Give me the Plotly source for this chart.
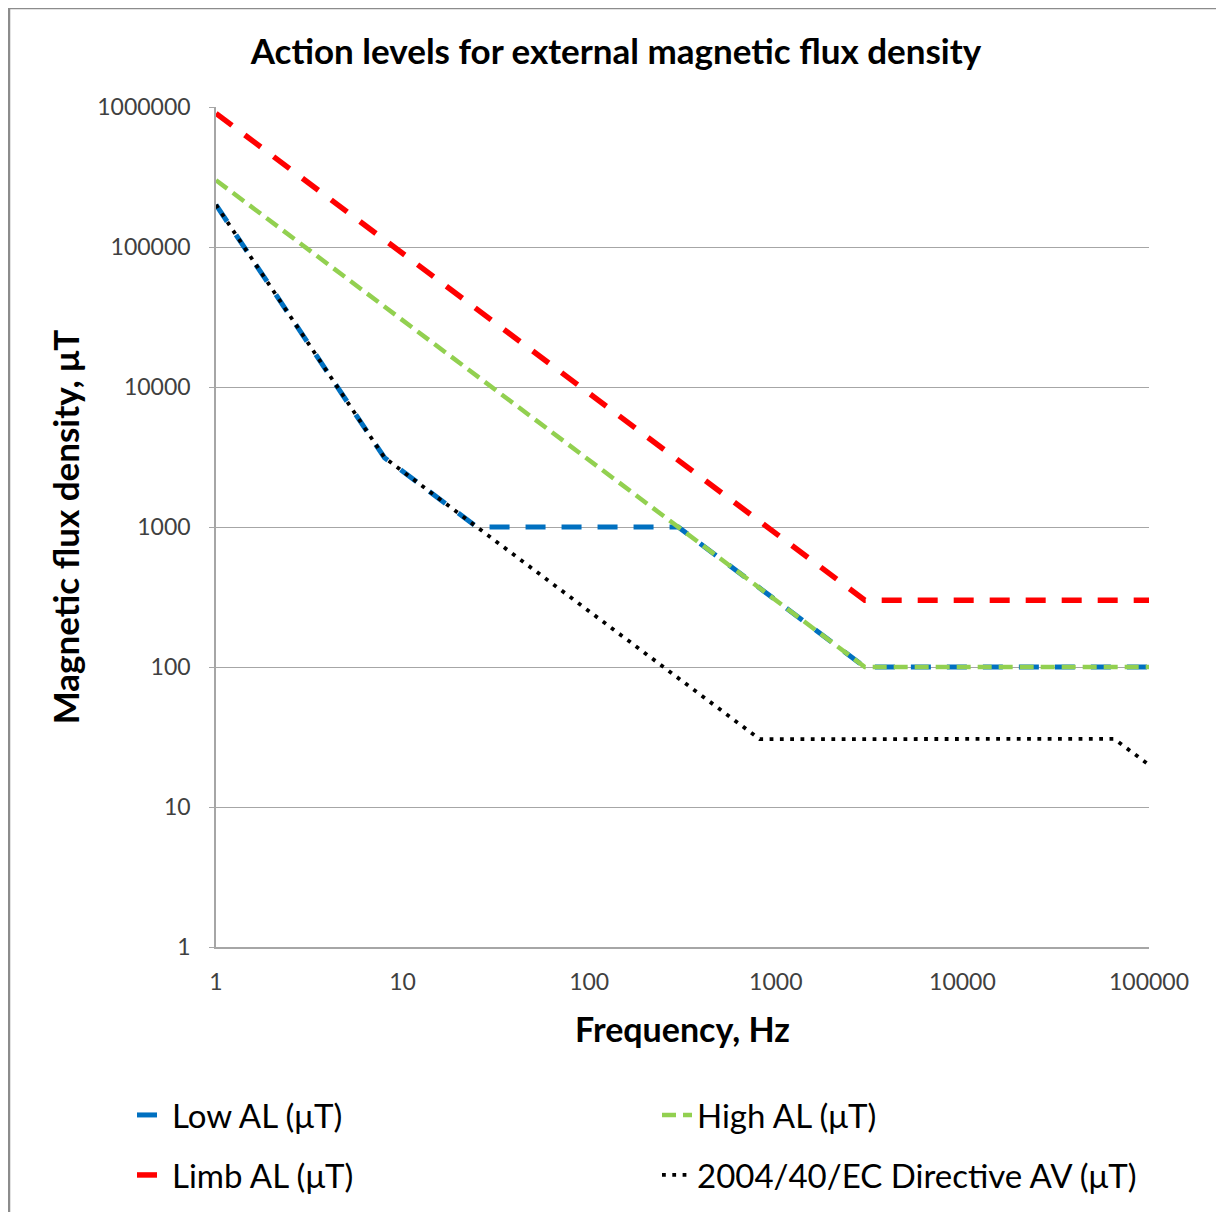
import plotly.graph_objects as go

# ---- data ----
freq_low = [1, 8, 25, 300, 3000, 100000]
low_al = [200000, 3125, 1000, 1000, 100, 100]

freq_high = [1, 3000, 100000]
high_al = [300000, 100, 100]

freq_limb = [1, 3000, 100000]
limb_al = [900000, 300, 300]

freq_dir = [1, 8, 25, 820, 65000, 100000]
dir_av = [200000, 3125, 1000, 30.5, 30.7, 20]

x_ticks = [1, 10, 100, 1000, 10000, 100000]
x_ticktext = ["1", "10", "100", "1000", "10000", "100000"]
y_ticks = [1, 10, 100, 1000, 10000, 100000, 1000000]
y_ticktext = ["1", "10", "100", "1000", "10000", "100000", "1000000"]

FONT = "Lato"

# layout geometry (figure pixels)
L, R, T, B = 208, 83, 99, 273
W, H = 1224, 1212
PW = W - L - R
PH = H - T - B
AXIS_Y = T + PH


def px_x(x):
    return (x - L) / PW


def px_y(y):
    return (AXIS_Y - y) / PH


fig = go.Figure()
fig.add_trace(go.Scatter(x=freq_low, y=low_al, mode="lines", name="Low AL (μT)",
                         line=dict(color="#0070C0", width=5, dash="20px,16px"),
                         legend="legend"))
fig.add_trace(go.Scatter(x=freq_high, y=high_al, mode="lines", name="High AL (μT)",
                         line=dict(color="#92D050", width=4.5, dash="14px,7px"),
                         legend="legend"))
fig.add_trace(go.Scatter(x=freq_limb, y=limb_al, mode="lines", name="Limb AL (μT)",
                         line=dict(color="#FF0000", width=5.5, dash="20px,16px"),
                         legend="legend2"))
fig.add_trace(go.Scatter(x=freq_dir, y=dir_av, mode="lines", name="2004/40/EC Directive AV (μT)",
                         line=dict(color="#000000", width=3.8, dash="3.8px,6.5px"),
                         legend="legend2"))

legend_common = dict(orientation="h", xanchor="left", yanchor="middle",
                     entrywidth=480, entrywidthmode="pixels",
                     font=dict(family=FONT, size=33, color="#000000"),
                     bgcolor="rgba(0,0,0,0)")

LEG_X = px_x(124)

fig.update_layout(
    width=W, height=H,
    margin=dict(l=L, r=R, t=T, b=B),
    paper_bgcolor="white", plot_bgcolor="white",
    font=dict(family=FONT, color="#404040"),
    title=dict(text="<b>Action levels for external magnetic flux density</b>",
               x=0.5 - 4 / W, xanchor="center", xref="container",
               y=1 - 44 / H, yanchor="middle", yref="container",
               font=dict(family=FONT, size=35, color="#000000")),
    xaxis=dict(type="log", range=[0, 5], tickvals=x_ticks, ticktext=x_ticktext,
               showgrid=False, showline=True, linecolor="#A6A6A6", linewidth=1.5,
               ticks="", ticklabelstandoff=14, zeroline=False,
               tickfont=dict(family=FONT, size=23, color="#404040"),
               title=dict(text="<b>Frequency, Hz</b>", standoff=24,
                          font=dict(family=FONT, size=34, color="#000000"))),
    yaxis=dict(type="log", range=[0, 6], tickvals=y_ticks, ticktext=y_ticktext,
               showgrid=True, gridcolor="#A6A6A6", gridwidth=1.2,
               showline=True, linecolor="#A6A6A6", linewidth=1.5,
               ticks="outside", ticklen=5, tickcolor="#A6A6A6", ticklabelstandoff=14,
               zeroline=False,
               tickfont=dict(family=FONT, size=23, color="#404040"),
               title=dict(text="<b>Magnetic flux density, μT</b>", standoff=7,
                          font=dict(family=FONT, size=35, color="#000000"))),
    legend=dict(x=LEG_X, y=px_y(1107), **legend_common),
    legend2=dict(x=LEG_X, y=px_y(1167), **legend_common),
    shapes=[dict(type="rect", xref="paper", yref="paper",
                 x0=px_x(1), x1=px_x(1211),
                 y0=px_y(1225), y1=px_y(0),
                 line=dict(color="#8C8C8C", width=2.5), fillcolor="rgba(0,0,0,0)",
                 layer="below")],
)

fig.write_html("out.html")
